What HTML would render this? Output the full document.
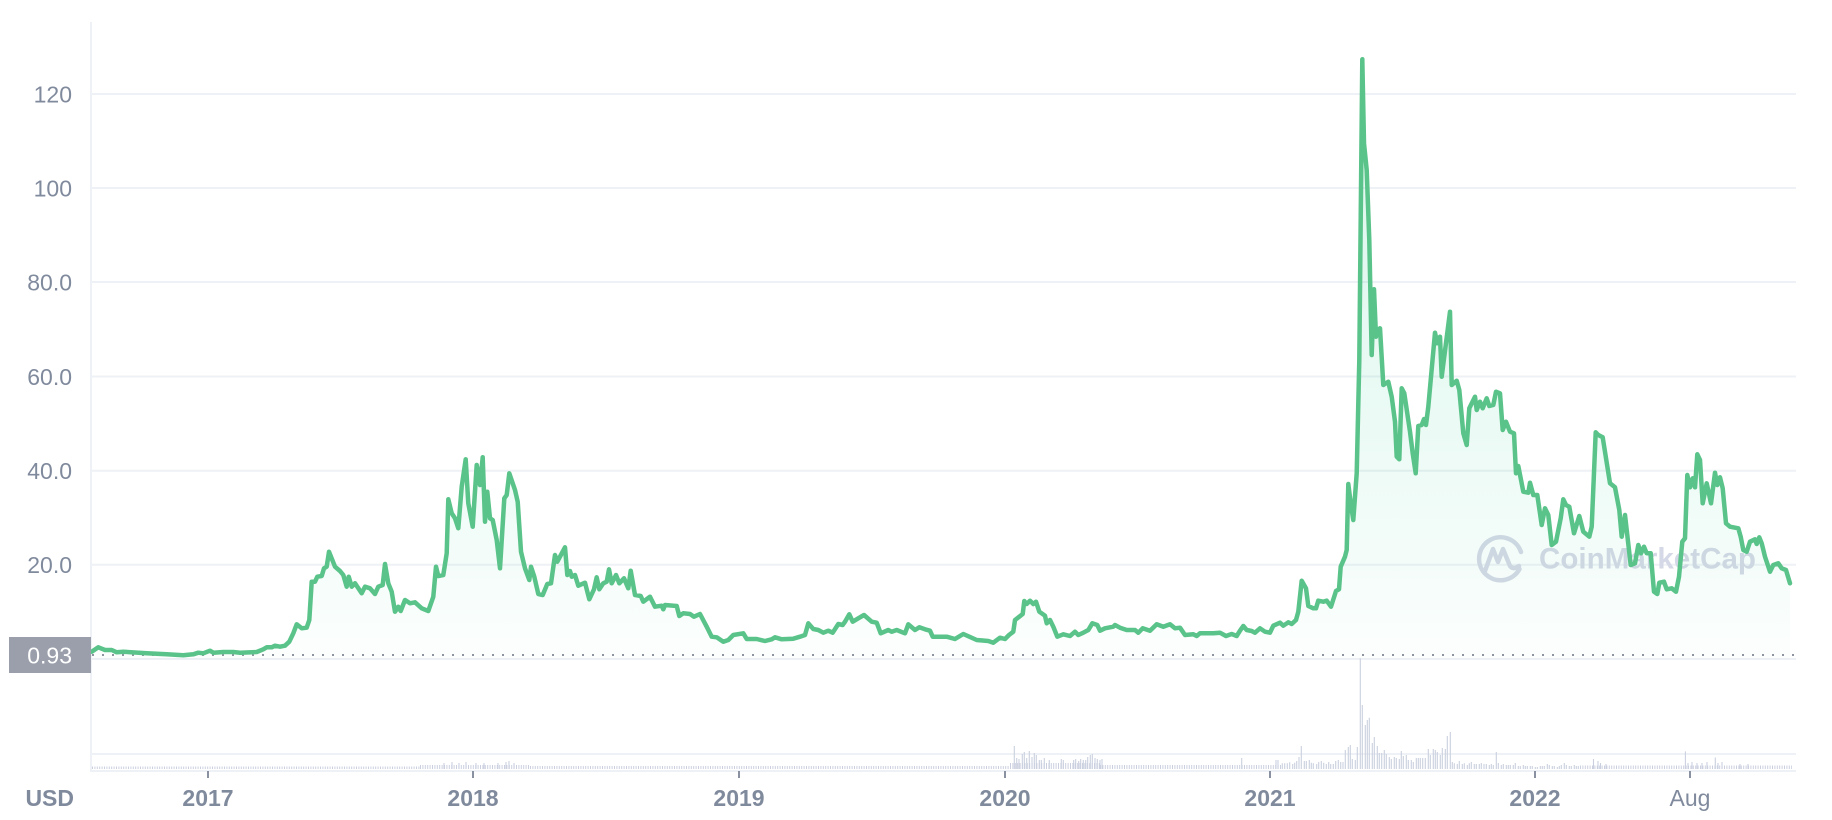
<!DOCTYPE html>
<html><head><meta charset="utf-8"><style>
html,body{margin:0;padding:0;background:#fff;}
svg{display:block;}
text{font-family:"Liberation Sans",sans-serif;}
</style></head><body>
<svg width="1832" height="820" viewBox="0 0 1832 820" xmlns="http://www.w3.org/2000/svg">
<defs>
<linearGradient id="fg" gradientUnits="userSpaceOnUse" x1="0" y1="60" x2="0" y2="660">
<stop offset="0" stop-color="#16c784" stop-opacity="0.16"/>
<stop offset="0.5" stop-color="#16c784" stop-opacity="0.10"/>
<stop offset="0.85" stop-color="#16c784" stop-opacity="0.045"/>
<stop offset="1" stop-color="#16c784" stop-opacity="0.01"/>
</linearGradient>
</defs>
<rect width="1832" height="820" fill="#fff"/>
<!-- grid -->
<g stroke="#eef1f5" stroke-width="2">
<line x1="92" y1="94" x2="1796" y2="94"/>
<line x1="92" y1="188" x2="1796" y2="188"/>
<line x1="92" y1="282" x2="1796" y2="282"/>
<line x1="92" y1="376.5" x2="1796" y2="376.5"/>
<line x1="92" y1="470.7" x2="1796" y2="470.7"/>
<line x1="92" y1="564.7" x2="1796" y2="564.7"/>
<line x1="92" y1="659" x2="1796" y2="659"/>
<line x1="92" y1="754" x2="1796" y2="754"/>
<line x1="90" y1="771" x2="1796" y2="771"/>
<line x1="91" y1="22" x2="91" y2="772"/>
</g>
<!-- y labels -->
<g fill="#808a9d" font-size="23" text-anchor="end">
<text x="72" y="102.3">120</text>
<text x="72" y="196.3">100</text>
<text x="72" y="290.3">80.0</text>
<text x="72" y="384.8">60.0</text>
<text x="72" y="479">40.0</text>
<text x="72" y="573">20.0</text>
</g>
<!-- watermark -->
<g stroke="#d5d8e6" stroke-width="4.5" fill="none" stroke-linecap="round" stroke-linejoin="round">
<path d="M1519.5,569 A21.5,21.5 0 1 1 1521,552"/>
<path d="M1485,571 L1493,549 L1498,562 L1503,549 L1510,566 Q1513,570 1519,566"/>
</g>
<text x="1539" y="568.5" font-size="29.5" font-weight="bold" fill="#d5d8e6" textLength="217" lengthAdjust="spacingAndGlyphs">CoinMarketCap</text>
<!-- volume baseline bars -->
<g stroke="#cbd0e0" stroke-dasharray="1 1.4">
<line x1="92" y1="767.75" x2="420" y2="767.75" stroke-width="2.5"/>
<line x1="420" y1="767" x2="530" y2="767" stroke-width="4"/>
<line x1="530" y1="767.5" x2="1010" y2="767.5" stroke-width="3"/>
<line x1="1010" y1="766" x2="1100" y2="766" stroke-width="6"/>
<line x1="1100" y1="767" x2="1281" y2="767" stroke-width="4"/>
<line x1="1580" y1="767.25" x2="1792" y2="767.25" stroke-width="3.5"/>
</g>
<path stroke="#cbd0e0" stroke-width="1.1" fill="none" d="
M444,769V763 M452,769V762 M459,769V763 M466,769V762 M476,769V763 M484,769V763 M498,769V763 M506,769V762 M509,769V761 M514,769V763
M1014.3,769V746 M1016.7,769V758 M1019,769V759 M1022.3,769V754 M1024.3,769V752 M1026.7,769V758 M1029.3,769V751 M1032,769V757 M1034.3,769V753 M1036.3,769V755 M1039.3,769V760 M1041.3,769V760 M1044.3,769V758 M1049.3,769V760 M1061.3,769V759 M1063.3,769V760 M1073.7,769V760 M1075.7,769V759 M1078.7,769V761 M1080.7,769V759 M1083.3,769V760 M1085.7,769V760 M1087.7,769V757 M1090.3,769V755 M1092.3,769V754 M1095,769V758 M1097.3,769V759 M1100,769V760 M1102,769V759 M1241.7,769V758 M1276,769V760 M1278,769V760
M1282.3,769V763.3 M1284.7,769V763.3 M1287.3,769V763.3 M1289.7,769V762.3 M1292.7,769V764 M1294.7,769V762.7 M1296.7,769V761 M1299,769V757 M1301.3,769V746 M1304.3,769V761 M1306.3,769V761 M1309.3,769V760 M1311.3,769V762.7 M1313.3,769V763.3 M1316.7,769V764 M1318.7,769V762 M1321.3,769V761 M1323.7,769V762.7 M1326.3,769V764 M1328.7,769V762 M1330.7,769V764 M1333.3,769V764 M1335.7,769V761 M1338.3,769V760 M1340.7,769V762 M1343,769V762 M1345.3,769V750 M1348.3,769V747 M1350.3,769V745 M1352.3,769V759 M1355.3,769V760 M1357.3,769V747 M1360.3,769V658.3 M1362.3,769V705 M1365.3,769V725 M1367.3,769V720 M1369.3,769V717.7 M1372.3,769V743 M1374.3,769V737 M1377.3,769V746 M1379.3,769V753 M1381.7,769V753 M1384.3,769V750 M1386.3,769V754 M1389.3,769V757 M1391.3,769V759 M1394.3,769V757 M1396.3,769V758 M1399.3,769V759 M1401.3,769V751 M1403.3,769V756 M1406.3,769V755 M1408.3,769V760 M1411.3,769V760 M1413.3,769V762 M1416.3,769V758 M1418.3,769V758 M1420.3,769V758 M1422.7,769V758 M1425.3,769V758 M1428.3,769V749 M1430.3,769V755 M1433.3,769V749 M1435.3,769V750 M1437.3,769V752 M1440.3,769V755 M1442.3,769V748 M1445.3,769V749 M1447.3,769V736 M1450.3,769V732 M1452.3,769V762 M1454.3,769V763.3 M1457.3,769V764 M1459.3,769V761 M1462.3,769V764 M1464.3,769V763.3 M1467.3,769V765 M1469.3,769V763.3 M1471.3,769V762 M1474.3,769V764 M1476.3,769V764 M1479.3,769V764 M1481.3,769V763 M1484,769V764 M1486.3,769V764 M1489.3,769V765 M1491.3,769V764 M1493.3,769V765 M1496.3,769V752 M1498.3,769V763 M1501.3,769V765 M1503.3,769V764 M1506.3,769V765 M1508.3,769V765 M1510.3,769V765 M1513.3,769V765 M1515.3,769V763 M1518.3,769V766 M1520.3,769V766 M1523.3,769V765 M1525.3,769V766 M1527.3,769V766 M1530.3,769V766 M1532.3,769V766 M1535.3,769V767 M1537.3,769V767 M1540.3,769V766 M1542.3,769V766 M1544.3,769V766 M1547.3,769V764 M1549.3,769V765 M1552.3,769V766 M1554.3,769V766 M1557.3,769V767 M1559.3,769V766 M1561.3,769V765 M1564.3,769V763 M1566.3,769V765 M1569.3,769V766 M1571.3,769V766 M1574.3,769V765 M1576.3,769V766 M1578.3,769V766
M1593.5,769V759 M1598,769V761 M1600.5,769V763 M1606,769V764 M1685.4,769V751.4 M1688,769V763 M1692,769V762 M1697,769V763 M1702,769V763 M1707,769V762 M1715.3,769V757.5 M1718,769V763 M1722,769V762 M1740,769V764 M1748,769V764"/>
<!-- price fill -->
<polygon fill="url(#fg)" points="91.7,659 91.7,651.7 98.3,647.3 105,650 111.7,650 116.7,652.3 123.3,651.7 146.7,653.3 166.7,654.3 183.3,655.3 193.3,654.3 198.3,652.7 203.3,653.3 210,650.7 213.3,652.7 223.3,652 233.3,652 240,652.7 256.7,652 263.3,649.3 266.7,647.3 271.7,647.3 275,645.7 280,646.7 285,645.7 289.3,641.7 293.3,633.3 296.7,624.3 301.7,628.3 306.7,627.7 309.3,620 311.7,581.7 315,581.7 317.3,576.7 321.7,576 324,568.3 326.7,566.7 329,551.7 335,566.7 340,571 343.3,575 346.7,586.7 348.7,576.7 351.7,586.7 355,583.3 361.7,593.3 365,586.7 370,588.3 375,594 378.3,586.7 382.7,585 385,564 388.3,583.3 391.7,591.7 395,611.7 398.3,606.7 400.7,611 405,600 410,603.3 415,602.3 421.7,608.3 428.3,611 433.3,596.7 436,566.7 438.3,576 443.3,575 446.7,553.3 448.3,499.3 451.7,513.3 455,518.3 458.3,528.3 461.7,486.7 465.7,459.3 468.3,503.3 472.7,526.7 476.7,465 480,485 482.7,457.3 485,521.7 487.3,491.7 490,518.3 492.7,520 496.7,540 500,568.3 504.3,498.3 506.7,495 509.3,473.3 515,490 517.7,501.7 521,551.7 525,568.3 529.3,580 531,566.7 534.3,576.7 538.3,594 542.7,595 547.3,584 551,583.3 555,555 557.3,561.7 565,547.3 567.3,575 570,571 571.7,576.7 575,575 578.3,585.7 585,582.7 589.3,599.3 594,589.3 596.7,577.3 599.3,589.3 603.3,583.3 606.7,581.7 609,569.3 611.7,583.3 616,575 619.3,583.3 624,578.3 628.3,588.3 630.7,570.7 635,595 640.7,596 643.3,601.7 650,596.7 655,606.7 661.7,605.7 663.3,609.3 665,605 676.7,606 679.3,616 683.3,613.3 690,614 694,616.7 700,614 706.7,626.7 711.7,636.7 716.7,637.3 723.3,641.7 728.3,640 733.3,635 743.3,633.3 746.7,639 756.7,639 765,641 771.7,639.3 775,637.3 781.7,639.3 793.3,638.7 800,636.7 805,635 808.3,623.3 813.3,629 818.3,630 823.3,632.7 828.3,630.7 832.7,632.7 838.3,624 842.7,625 845,621.7 849.3,614.3 852.7,621.7 858.3,618.3 864,615 871.7,621.7 876.7,622.7 880.7,633.3 888.3,630 891.7,631.7 896.7,630 905,633.3 908.3,624.3 915,630 919.3,627.3 925,629.3 930,630.7 932.7,636.7 946.7,636.7 955,639 963.3,634 976.7,640 988.3,641 993.3,642.7 1000,637.7 1005,639 1009,635 1013.3,631.7 1015,620 1019.3,616.7 1022.7,614 1024.3,601 1026.7,604 1030,600.7 1033.3,604 1036,601.7 1039.3,611.7 1045,615.7 1046.7,623.3 1050,620 1053.3,626.7 1057.3,636.7 1063.3,634.3 1070,636 1075,631.7 1078.3,635 1083.3,632.7 1088.3,630 1092.3,623.3 1097.3,625 1100,630.7 1105,628.3 1113.3,626.7 1115,625 1120,627.7 1126.7,630 1135,630 1138.3,632.7 1142.7,628.3 1150,630.7 1156.7,624.3 1163.3,626.7 1170,624.3 1175,628.3 1180,627.7 1185,635 1193.3,634.3 1196.7,636 1200,633.3 1213.3,633.3 1220,632.7 1226,636 1231.7,634 1236.7,636 1240,630.7 1243.3,626 1246.7,630 1251.7,631 1255,632.7 1260,628.3 1265,631.7 1270,632.7 1273.3,625.7 1280,622.7 1283.3,625.7 1288.3,622.3 1291.7,624 1296,620 1298.3,611.7 1301.7,580.7 1306,588.3 1308.3,606 1313.3,608.3 1316,608.3 1318.3,600.7 1323.3,601.7 1326.7,600.7 1331,606.7 1336,591 1339,589.3 1340.7,566.7 1345,556.7 1346.7,550 1348.3,484 1350.7,503.3 1353.3,520 1356.7,473.3 1359.3,360 1362.3,59.3 1364,143.3 1366.7,170 1369.3,240 1371.7,355 1374,289.3 1376,336.7 1377.3,330 1380,328.3 1383.3,385 1388.3,381.7 1391.7,396.7 1395,421.7 1396.7,456.7 1399.3,459.3 1401.7,388.3 1404.3,393.3 1410,431.7 1412.7,453.3 1415.7,473.3 1418.3,426 1421.7,425 1424,419 1426,425 1428.3,406.7 1435,332.7 1437.3,343.3 1440,336.7 1441.7,376.7 1450,311.7 1451.7,385 1456.7,380.7 1459.3,390 1463.3,433.3 1466.7,445 1469.3,408.3 1475,396.7 1476.7,410 1480,401.7 1482.7,408.3 1486.7,398.3 1489.3,406 1493.3,405 1496,391.7 1500,393.3 1502.7,430 1506,421.7 1510,431.7 1514,433.3 1516,473.3 1518.3,466 1523.3,491.7 1528.3,492.7 1530,482.7 1533.3,495 1537.3,495 1541.7,525 1545,508.3 1548.3,515 1551.7,545 1556,541.7 1560.7,518.3 1563.3,499.3 1566,505 1569.3,506.7 1574,533.3 1579.3,516 1583.3,531.7 1589.3,536.7 1591.7,526.7 1595.7,432.3 1598.3,435 1602.7,437.3 1610,483.3 1615,487.3 1619.3,510 1621.7,536.7 1625,515 1630.7,565 1635,563.3 1638.3,545 1641,553.3 1644,546.7 1646.7,553.3 1650.7,553.3 1654,591.7 1657.3,594 1659.3,582.7 1664,581.7 1666.7,589.3 1671.7,588.3 1676,591.7 1679,576.7 1682.3,541.7 1685,538.3 1687.3,475 1690,487.3 1692.7,478.3 1695,487.3 1697.3,454.3 1700,460 1702.7,503.3 1706.7,483.3 1711,503.3 1715,472.7 1717.3,485 1720,477.3 1722.7,488.3 1726,523.3 1730,526.7 1738.3,528.3 1740.7,536.7 1743.3,550 1746.7,551.7 1750,541.7 1755,539.3 1756.7,544 1759.3,537.3 1761.7,543.3 1765,556.7 1770,571.7 1773.3,565 1778.3,563.3 1781.7,568.3 1786,570 1790,583.3 1790,659"/>
<!-- dotted current price line -->
<line x1="92" y1="655" x2="1796" y2="655" stroke="#8f95a0" stroke-width="2" stroke-dasharray="2 8"/>
<!-- price line -->
<polyline fill="none" stroke="#5ac389" stroke-width="4.5" stroke-linejoin="round" stroke-linecap="round" points="91.7,651.7 98.3,647.3 105,650 111.7,650 116.7,652.3 123.3,651.7 146.7,653.3 166.7,654.3 183.3,655.3 193.3,654.3 198.3,652.7 203.3,653.3 210,650.7 213.3,652.7 223.3,652 233.3,652 240,652.7 256.7,652 263.3,649.3 266.7,647.3 271.7,647.3 275,645.7 280,646.7 285,645.7 289.3,641.7 293.3,633.3 296.7,624.3 301.7,628.3 306.7,627.7 309.3,620 311.7,581.7 315,581.7 317.3,576.7 321.7,576 324,568.3 326.7,566.7 329,551.7 335,566.7 340,571 343.3,575 346.7,586.7 348.7,576.7 351.7,586.7 355,583.3 361.7,593.3 365,586.7 370,588.3 375,594 378.3,586.7 382.7,585 385,564 388.3,583.3 391.7,591.7 395,611.7 398.3,606.7 400.7,611 405,600 410,603.3 415,602.3 421.7,608.3 428.3,611 433.3,596.7 436,566.7 438.3,576 443.3,575 446.7,553.3 448.3,499.3 451.7,513.3 455,518.3 458.3,528.3 461.7,486.7 465.7,459.3 468.3,503.3 472.7,526.7 476.7,465 480,485 482.7,457.3 485,521.7 487.3,491.7 490,518.3 492.7,520 496.7,540 500,568.3 504.3,498.3 506.7,495 509.3,473.3 515,490 517.7,501.7 521,551.7 525,568.3 529.3,580 531,566.7 534.3,576.7 538.3,594 542.7,595 547.3,584 551,583.3 555,555 557.3,561.7 565,547.3 567.3,575 570,571 571.7,576.7 575,575 578.3,585.7 585,582.7 589.3,599.3 594,589.3 596.7,577.3 599.3,589.3 603.3,583.3 606.7,581.7 609,569.3 611.7,583.3 616,575 619.3,583.3 624,578.3 628.3,588.3 630.7,570.7 635,595 640.7,596 643.3,601.7 650,596.7 655,606.7 661.7,605.7 663.3,609.3 665,605 676.7,606 679.3,616 683.3,613.3 690,614 694,616.7 700,614 706.7,626.7 711.7,636.7 716.7,637.3 723.3,641.7 728.3,640 733.3,635 743.3,633.3 746.7,639 756.7,639 765,641 771.7,639.3 775,637.3 781.7,639.3 793.3,638.7 800,636.7 805,635 808.3,623.3 813.3,629 818.3,630 823.3,632.7 828.3,630.7 832.7,632.7 838.3,624 842.7,625 845,621.7 849.3,614.3 852.7,621.7 858.3,618.3 864,615 871.7,621.7 876.7,622.7 880.7,633.3 888.3,630 891.7,631.7 896.7,630 905,633.3 908.3,624.3 915,630 919.3,627.3 925,629.3 930,630.7 932.7,636.7 946.7,636.7 955,639 963.3,634 976.7,640 988.3,641 993.3,642.7 1000,637.7 1005,639 1009,635 1013.3,631.7 1015,620 1019.3,616.7 1022.7,614 1024.3,601 1026.7,604 1030,600.7 1033.3,604 1036,601.7 1039.3,611.7 1045,615.7 1046.7,623.3 1050,620 1053.3,626.7 1057.3,636.7 1063.3,634.3 1070,636 1075,631.7 1078.3,635 1083.3,632.7 1088.3,630 1092.3,623.3 1097.3,625 1100,630.7 1105,628.3 1113.3,626.7 1115,625 1120,627.7 1126.7,630 1135,630 1138.3,632.7 1142.7,628.3 1150,630.7 1156.7,624.3 1163.3,626.7 1170,624.3 1175,628.3 1180,627.7 1185,635 1193.3,634.3 1196.7,636 1200,633.3 1213.3,633.3 1220,632.7 1226,636 1231.7,634 1236.7,636 1240,630.7 1243.3,626 1246.7,630 1251.7,631 1255,632.7 1260,628.3 1265,631.7 1270,632.7 1273.3,625.7 1280,622.7 1283.3,625.7 1288.3,622.3 1291.7,624 1296,620 1298.3,611.7 1301.7,580.7 1306,588.3 1308.3,606 1313.3,608.3 1316,608.3 1318.3,600.7 1323.3,601.7 1326.7,600.7 1331,606.7 1336,591 1339,589.3 1340.7,566.7 1345,556.7 1346.7,550 1348.3,484 1350.7,503.3 1353.3,520 1356.7,473.3 1359.3,360 1362.3,59.3 1364,143.3 1366.7,170 1369.3,240 1371.7,355 1374,289.3 1376,336.7 1377.3,330 1380,328.3 1383.3,385 1388.3,381.7 1391.7,396.7 1395,421.7 1396.7,456.7 1399.3,459.3 1401.7,388.3 1404.3,393.3 1410,431.7 1412.7,453.3 1415.7,473.3 1418.3,426 1421.7,425 1424,419 1426,425 1428.3,406.7 1435,332.7 1437.3,343.3 1440,336.7 1441.7,376.7 1450,311.7 1451.7,385 1456.7,380.7 1459.3,390 1463.3,433.3 1466.7,445 1469.3,408.3 1475,396.7 1476.7,410 1480,401.7 1482.7,408.3 1486.7,398.3 1489.3,406 1493.3,405 1496,391.7 1500,393.3 1502.7,430 1506,421.7 1510,431.7 1514,433.3 1516,473.3 1518.3,466 1523.3,491.7 1528.3,492.7 1530,482.7 1533.3,495 1537.3,495 1541.7,525 1545,508.3 1548.3,515 1551.7,545 1556,541.7 1560.7,518.3 1563.3,499.3 1566,505 1569.3,506.7 1574,533.3 1579.3,516 1583.3,531.7 1589.3,536.7 1591.7,526.7 1595.7,432.3 1598.3,435 1602.7,437.3 1610,483.3 1615,487.3 1619.3,510 1621.7,536.7 1625,515 1630.7,565 1635,563.3 1638.3,545 1641,553.3 1644,546.7 1646.7,553.3 1650.7,553.3 1654,591.7 1657.3,594 1659.3,582.7 1664,581.7 1666.7,589.3 1671.7,588.3 1676,591.7 1679,576.7 1682.3,541.7 1685,538.3 1687.3,475 1690,487.3 1692.7,478.3 1695,487.3 1697.3,454.3 1700,460 1702.7,503.3 1706.7,483.3 1711,503.3 1715,472.7 1717.3,485 1720,477.3 1722.7,488.3 1726,523.3 1730,526.7 1738.3,528.3 1740.7,536.7 1743.3,550 1746.7,551.7 1750,541.7 1755,539.3 1756.7,544 1759.3,537.3 1761.7,543.3 1765,556.7 1770,571.7 1773.3,565 1778.3,563.3 1781.7,568.3 1786,570 1790,583.3"/>
<!-- current price tag -->
<rect x="9" y="637" width="82" height="36" fill="#9a9fab"/>
<text x="72" y="663.3" font-size="23" fill="#ffffff" text-anchor="end">0.93</text>
<!-- x ticks -->
<g stroke="#8a91a1" stroke-width="2">
<line x1="208" y1="771" x2="208" y2="778"/>
<line x1="473" y1="771" x2="473" y2="778"/>
<line x1="739" y1="771" x2="739" y2="778"/>
<line x1="1005" y1="771" x2="1005" y2="778"/>
<line x1="1270" y1="771" x2="1270" y2="778"/>
<line x1="1535" y1="771" x2="1535" y2="778"/>
<line x1="1690" y1="771" x2="1690" y2="778"/>
</g>
<!-- x labels -->
<g fill="#808a9d" font-size="23" text-anchor="middle">
<text x="74" y="806" text-anchor="end" font-weight="bold">USD</text>
<text x="208" y="806" font-weight="bold">2017</text>
<text x="473" y="806" font-weight="bold">2018</text>
<text x="739" y="806" font-weight="bold">2019</text>
<text x="1005" y="806" font-weight="bold">2020</text>
<text x="1270" y="806" font-weight="bold">2021</text>
<text x="1535" y="806" font-weight="bold">2022</text>
<text x="1690" y="806">Aug</text>
</g>
</svg>
</body></html>
